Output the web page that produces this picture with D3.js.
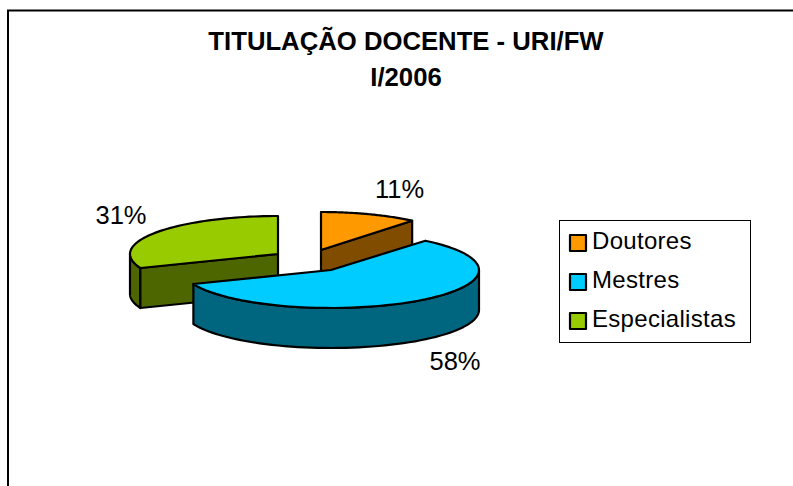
<!DOCTYPE html>
<html lang="pt">
<head>
<meta charset="utf-8" />
<title>Titulação docente</title>
<script src="https://d3js.org/d3.v7.min.js"></script>
<style>
html, body { margin: 0; padding: 0; background: #fff; overflow: hidden; }
svg { display: block; }
text { font-family: "Liberation Sans", Arial, sans-serif; fill: #000; }
.wall, .face, .swatch { stroke: #000; stroke-width: 2.2px; stroke-linejoin: round; }
</style>
</head>
<body>
<svg width="793" height="486"></svg>
<script>
// data
var categories = ["Doutores", "Mestres", "Especialistas"];
var values = [11, 58, 31];
var titleLines = ["TITULAÇÃO DOCENTE - URI/FW", "I/2006"];
var topColors = ["#ff9900", "#00ccff", "#99cc00"];
var sideColors = ["#804d00", "#006680", "#4d6600"];

var svg = d3.select("svg");

// frame, only the top and left edges are inside the picture
svg.append("path")
	.attr("d", "M8,486V10.5H793")
	.attr("fill", "none")
	.attr("stroke", "#000")
	.attr("stroke-width", 2);

svg.selectAll(".title")
	.data(titleLines)
	.enter().append("text")
	.attr("class", "title")
	.attr("x", 406)
	.attr("y", function(d, i) { return 50 + i * 36; })
	.attr("text-anchor", "middle")
	.attr("font-size", 25.7)
	.attr("font-weight", "bold")
	.text(function(d) { return d; });

// tilted pie, each slice is pulled out on its own
var ry = 38, depth = 40;
var rx = [143, 148, 148];
var apex = [[321, 250], [331, 270], [278, 254]];
var labelPos = [[399.5, 198], [455, 370], [121, 224]];

var pie = d3.pie().sort(null);
var arcs = pie(values);

function project(i, a, r, drop) {
	return [
		apex[i][0] + r * rx[i] * Math.sin(a),
		apex[i][1] - r * ry * Math.cos(a) + (drop || 0)
	];
}

function arcPoints(i, a0, a1, drop) {
	return d3.range(0, 61).map(function(k) {
		return project(i, a0 + (a1 - a0) * k / 60, 1, drop);
	});
}

var line = d3.line();

function outerWall(i, a0, a1) {
	var pts = arcPoints(i, a0, a1, 0).concat(arcPoints(i, a1, a0, depth));
	svg.append("path").attr("class", "wall")
		.attr("fill", sideColors[i])
		.attr("d", line(pts) + "Z");
}

function cutWall(i, a) {
	var p = project(i, a, 1, 0), q = project(i, a, 0, 0);
	svg.append("path").attr("class", "wall")
		.attr("fill", sideColors[i])
		.attr("d", line([p, q, [q[0], q[1] + depth], [p[0], p[1] + depth]]) + "Z");
}

function topFace(i, a0, a1) {
	var pts = [project(i, a0, 0, 0)].concat(arcPoints(i, a0, a1, 0));
	svg.append("path").attr("class", "face")
		.attr("fill", topColors[i])
		.attr("d", line(pts) + "Z");
}

// back to front: green, orange, blue
var o = arcs[0], b = arcs[1], g = arcs[2];
outerWall(2, g.startAngle, 1.5 * Math.PI);
cutWall(2, g.startAngle);
topFace(2, g.startAngle, g.endAngle);

cutWall(0, o.endAngle);
topFace(0, o.startAngle, o.endAngle);

outerWall(1, Math.PI / 2, b.endAngle);
topFace(1, b.startAngle, b.endAngle);

svg.selectAll(".pct")
	.data(values)
	.enter().append("text")
	.attr("class", "pct")
	.attr("x", function(d, i) { return labelPos[i][0]; })
	.attr("y", function(d, i) { return labelPos[i][1]; })
	.attr("text-anchor", "middle")
	.attr("font-size", 25.5)
	.text(function(d) { return d + "%"; });

// legend
svg.append("rect")
	.attr("x", 559.5).attr("y", 220.5)
	.attr("width", 191).attr("height", 122)
	.attr("fill", "#fff")
	.attr("stroke", "#000");

var rowY = d3.scalePoint().domain(categories).range([242, 320]);

var rows = svg.selectAll(".row")
	.data(categories)
	.enter().append("g")
	.attr("class", "row")
	.attr("transform", function(d) { return "translate(0," + rowY(d) + ")"; });

rows.append("rect").attr("class", "swatch")
	.attr("x", 570).attr("y", -7)
	.attr("width", 16).attr("height", 16)
	.attr("fill", function(d, i) { return topColors[i]; });

rows.append("text")
	.attr("x", 592).attr("y", 7)
	.attr("font-size", 24)
	.attr("letter-spacing", 0.3)
	.text(function(d) { return d; });
</script>
</body>
</html>
